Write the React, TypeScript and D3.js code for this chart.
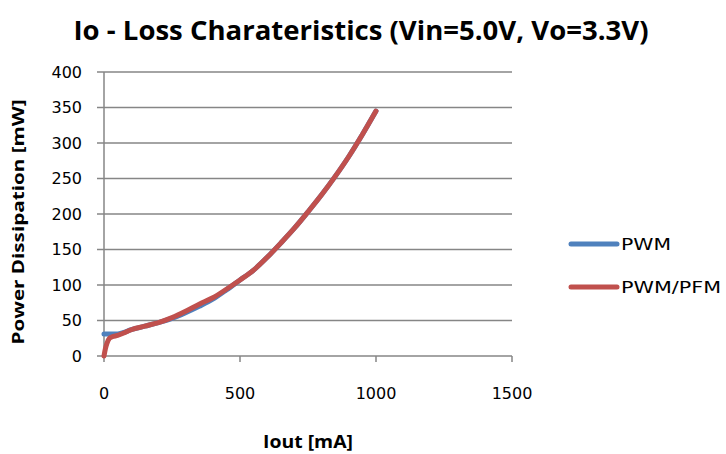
import * as d3 from "d3";

const iout = [0, 5, 10, 20, 30, 50, 70, 100, 150, 200, 250, 300, 350, 400, 450, 500, 550, 600, 650, 700, 750, 800, 850, 900, 950, 1000];
const pwm = [31, 31, 31, 31, 31, 31, 33, 37, 42, 47, 53, 61, 70, 80, 93, 107, 121, 139, 159, 180, 203, 227, 253, 281, 312, 345];
const pwmPfm = [0, 10, 17, 25, 27, 29, 32, 37, 42, 47, 54, 63, 73, 82, 94, 107, 121, 139, 159, 180, 203, 227, 253, 281, 312, 345];

const yTicks = [0, 50, 100, 150, 200, 250, 300, 350, 400];
const xTicks = [0, 500, 1000, 1500];

const series = [
  { name: "PWM", values: pwm, color: "#4F81BD" },
  { name: "PWM/PFM", values: pwmPfm, color: "#C0504D" },
];

const W = 726;
const H = 454;
const margin = { left: 104, right: 214, top: 72, bottom: 98 };
const tickFont = "DejaVu Sans, sans-serif";
const boldFont = "Open Sans, sans-serif";
const grey = "#868686";

export default function App() {
  const x = d3.scaleLinear().domain([0, 1500]).range([margin.left, W - margin.right]);
  const y = d3.scaleLinear().domain([0, 400]).range([H - margin.bottom, margin.top]);
  const line = d3
    .line<number>()
    .x((_, i) => x(iout[i]))
    .y((d) => y(d))
    .curve(d3.curveMonotoneX);

  return (
    <svg width={W} height={H} style={{ position: "absolute", left: 0, top: 0, background: "#fff" }}>
      <text
        x={361}
        y={40}
        textAnchor="middle"
        fontFamily={boldFont}
        fontWeight="bold"
        fontSize={27}
        textLength={575}
        lengthAdjust="spacingAndGlyphs"
        fill="#000"
      >
        Io - Loss Charateristics (Vin=5.0V, Vo=3.3V)
      </text>

      {/* gridlines and y ticks */}
      {yTicks.map((t) => (
        <g key={t}>
          <line x1={margin.left - 7} x2={x(1500)} y1={y(t)} y2={y(t)} stroke={grey} strokeWidth={1.5} />
          <text
            x={margin.left - 22}
            y={y(t)}
            dy="0.36em"
            textAnchor="end"
            fontFamily={tickFont}
            fontSize={16}
            fill="#000"
          >
            {t}
          </text>
        </g>
      ))}

      {/* axes */}
      <line x1={x(0)} x2={x(0)} y1={y(400)} y2={y(0)} stroke={grey} strokeWidth={1.5} />
      {xTicks.map((t) => (
        <g key={t}>
          <line x1={x(t)} x2={x(t)} y1={y(0)} y2={y(0) + 6} stroke={grey} strokeWidth={1.5} />
          <text
            x={x(t)}
            y={y(0) + 43}
            textAnchor="middle"
            fontFamily={tickFont}
            fontSize={16}
            fill="#000"
          >
            {t}
          </text>
        </g>
      ))}

      {series.map((s) => (
        <path
          key={s.name}
          d={line(s.values) ?? ""}
          fill="none"
          stroke={s.color}
          strokeWidth={5}
          strokeLinejoin="round"
          strokeLinecap="round"
        />
      ))}

      {/* axis titles */}
      <text
        transform={`translate(24,${(y(0) + y(400)) / 2 + 8}) rotate(-90)`}
        textAnchor="middle"
        fontFamily={boldFont}
        fontWeight="bold"
        fontSize={16}
        textLength={245}
        lengthAdjust="spacingAndGlyphs"
        fill="#000"
      >
        Power Dissipation  [mW]
      </text>
      <text
        x={308}
        y={448}
        textAnchor="middle"
        fontFamily={boldFont}
        fontWeight="bold"
        fontSize={17}
        textLength={90}
        lengthAdjust="spacingAndGlyphs"
        fill="#000"
      >
        Iout [mA]
      </text>

      {/* legend */}
      {series.map((s, i) => {
        const ly = 244 + i * 43;
        return (
          <g key={s.name}>
            <line x1={571} x2={617} y1={ly} y2={ly} stroke={s.color} strokeWidth={5} strokeLinecap="round" />
            <text
              x={621}
              y={ly}
              dy="0.36em"
              fontFamily={tickFont}
              fontSize={16}
              textLength={s.name === "PWM" ? 50 : 100}
              lengthAdjust="spacingAndGlyphs"
              fill="#000"
            >
              {s.name}
            </text>
          </g>
        );
      })}
    </svg>
  );
}
